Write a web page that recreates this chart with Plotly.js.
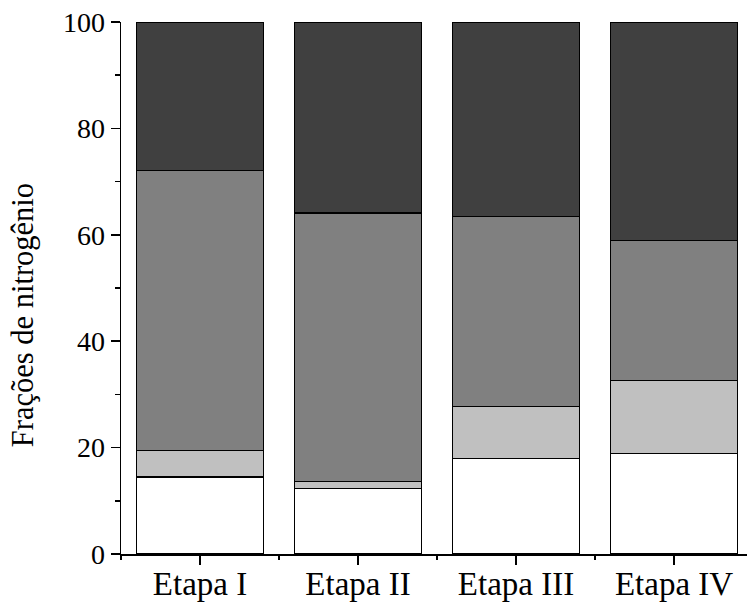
<!DOCTYPE html>
<html>
<head>
<meta charset="utf-8">
<script src="https://cdn.plot.ly/plotly-3.0.1.min.js"></script>
<style>html,body{margin:0;padding:0;background:#fff;}#chart{width:747px;height:603px;}</style>
</head>
<body>
<div id="chart"></div>
<script>
const categories = ["Etapa I", "Etapa II", "Etapa III", "Etapa IV"];
const fraction1 = [14.5, 12.3, 18.0, 18.9];
const fraction2 = [4.9, 1.3, 9.7, 13.7];
const fraction3 = [52.7, 50.5, 35.8, 26.3];
const fraction4 = [27.9, 35.9, 36.5, 41.1];
const yTickValues = [0, 20, 40, 60, 80, 100];
const yTitle = "Frações de nitrogênio";
const seriesColors = ["#ffffff", "#c0c0c0", "#808080", "#404040"];
const series = [fraction1, fraction2, fraction3, fraction4];
const xpos = categories.map((c, i) => i);

const traces = series.map((vals, k) => ({
  type: "bar",
  x: xpos,
  y: vals,
  width: 0.8,
  marker: {color: seriesColors[k], line: {color: "#000000", width: 1.3}},
  hoverinfo: "y",
  showlegend: false
}));

const fam = "Liberation Serif, Times New Roman, serif";
const layout = {
  width: 747, height: 603,
  margin: {l: 121, r: 0, t: 22, b: 49},
  barmode: "stack",
  bargap: 0.2,
  paper_bgcolor: "#fff", plot_bgcolor: "#fff",
  font: {family: fam, size: 28, color: "#000"},
  xaxis: {
    range: [-0.5, 3.462],
    tickvals: xpos, ticktext: categories,
    ticks: "outside", ticklen: 9, tickwidth: 1.5, tickcolor: "#000",
    ticklabelstandoff: -9,
    minor: {tickvals: [-0.5, 0.5, 1.5, 2.5], ticks: "outside", ticklen: 4, tickwidth: 1.5, tickcolor: "#000"},
    showline: true, linecolor: "#000", linewidth: 1.5,
    showgrid: false, zeroline: false,
    tickfont: {family: fam, size: 33, color: "#000"}
  },
  yaxis: {
    range: [0, 100],
    tickvals: yTickValues,
    ticks: "outside", ticklen: 9, tickwidth: 1.5, tickcolor: "#000",
    minor: {tickvals: [10, 30, 50, 70, 90], ticks: "outside", ticklen: 5, tickwidth: 1.5, tickcolor: "#000"},
    showline: true, linecolor: "#000", linewidth: 1.5,
    showgrid: false, zeroline: false,
    tickfont: {family: fam, size: 28, color: "#000"}
  },
  annotations: [{
    text: yTitle, xref: "paper", yref: "paper",
    x: -0.1565, y: 0.449, xanchor: "center", yanchor: "middle",
    textangle: -90, showarrow: false,
    font: {family: fam, size: 30.5, color: "#000"}
  }]
};
Plotly.newPlot("chart", traces, layout, {displayModeBar: false, staticPlot: true});
</script>
</body>
</html>
